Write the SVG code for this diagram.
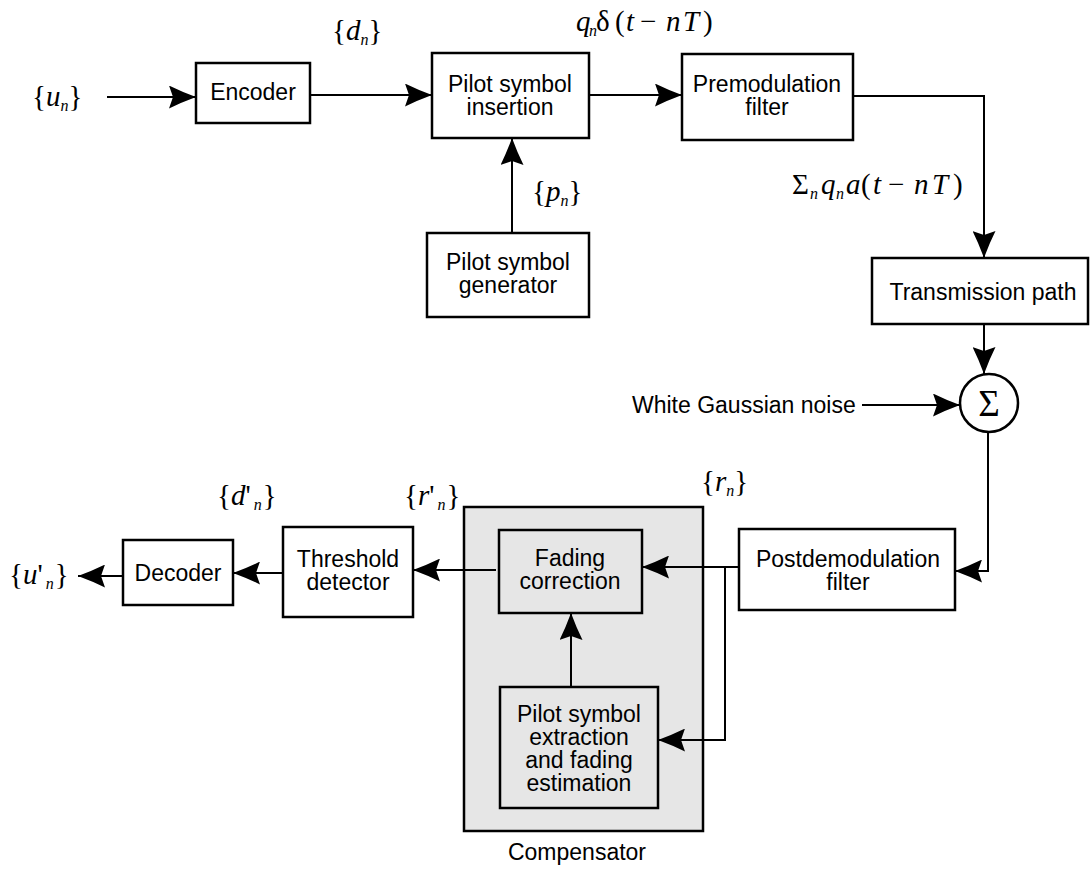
<svg xmlns="http://www.w3.org/2000/svg" width="1091" height="870" viewBox="0 0 1091 870">
<style>
.box{fill:#fff;stroke:#000;stroke-width:2.5}
.gbox{fill:#e6e6e6;stroke:#000;stroke-width:2.5}
.t{font-family:"Liberation Sans",Arial,sans-serif;font-size:23px;fill:#000;text-anchor:middle}
.tl{font-family:"Liberation Sans",Arial,sans-serif;font-size:23px;fill:#000}
.m{font-family:"Liberation Serif","Times New Roman",serif;font-size:29px;fill:#000}
.i{font-style:italic}
.s{font-style:italic;font-size:16px}
.c{fill:none;stroke:#000;stroke-width:2}
.a{marker-end:url(#ah)}
</style>
<defs>
<marker id="ah" viewBox="0 0 27 23" markerWidth="27" markerHeight="23" refX="27" refY="11.5" orient="auto" markerUnits="userSpaceOnUse">
<path d="M0,0 Q12,6 27,11.5 Q12,17 0,23 L4,11.5 Z" fill="#000"/>
</marker>
</defs>
<rect width="1091" height="870" fill="#fff"/>

<g id="compensator">
<rect class="gbox" x="464" y="507" width="239" height="324"/>
<text class="t" x="577" y="860">Compensator</text>
</g>

<g id="connectors">
<line class="c a" x1="107" y1="97" x2="196" y2="97"/>
<line class="c a" x1="310" y1="95" x2="432" y2="95"/>
<line class="c a" x1="589" y1="95" x2="682" y2="95"/>
<polyline class="c a" points="853,96 984,96 984,258"/>
<line class="c a" x1="512" y1="233" x2="512" y2="138"/>
<line class="c a" x1="984" y1="324" x2="984" y2="374"/>
<line class="c a" x1="862" y1="405" x2="960" y2="405"/>
<polyline class="c a" points="988,432 988,571 955,571"/>
<line class="c a" x1="739" y1="567" x2="642" y2="567"/>
<polyline class="c a" points="725,567 725,740 658,740"/>
<line class="c a" x1="571" y1="687" x2="571" y2="613"/>
<line class="c a" x1="496" y1="570" x2="413" y2="570"/>
<line class="c a" x1="283" y1="573" x2="233" y2="573"/>
<line class="c a" x1="123" y1="576" x2="78" y2="576"/>
</g>

<g id="encoder">
<rect class="box" x="196" y="63" width="114" height="60"/>
<text class="t" x="253" y="100">Encoder</text>
</g>
<g id="pilot-insertion">
<rect class="box" x="432" y="53" width="157" height="85"/>
<text class="t"><tspan x="510" y="92">Pilot symbol</tspan><tspan x="510" y="115">insertion</tspan></text>
</g>
<g id="premodulation">
<rect class="box" x="682" y="54" width="171" height="86"/>
<text class="t"><tspan x="767" y="92">Premodulation</tspan><tspan x="767" y="115">filter</tspan></text>
</g>
<g id="pilot-generator">
<rect class="box" x="427" y="233" width="162" height="84"/>
<text class="t"><tspan x="508" y="270">Pilot symbol</tspan><tspan x="508" y="293">generator</tspan></text>
</g>
<g id="transmission">
<rect class="box" x="872" y="258" width="216" height="66"/>
<text class="t" x="983" y="300">Transmission path</text>
</g>
<g id="sum">
<circle cx="989" cy="403" r="29" fill="#fff" stroke="#000" stroke-width="2.5"/>
<text x="989" y="416" font-family="Liberation Serif,serif" font-size="37" text-anchor="middle">Σ</text>
</g>
<g id="noise">
<text class="tl" x="632" y="413">White Gaussian noise</text>
</g>
<g id="postdemod">
<rect class="box" x="739" y="529" width="216" height="81"/>
<text class="t"><tspan x="848" y="567">Postdemodulation</tspan><tspan x="848" y="590">filter</tspan></text>
</g>
<g id="fading-correction">
<rect class="gbox" x="499" y="530" width="143" height="83"/>
<text class="t"><tspan x="570" y="566">Fading</tspan><tspan x="570" y="589">correction</tspan></text>
</g>
<g id="pilot-extraction">
<rect class="gbox" x="500" y="687" width="158" height="121"/>
<text class="t"><tspan x="579" y="722">Pilot symbol</tspan><tspan x="579" y="745">extraction</tspan><tspan x="579" y="768">and fading</tspan><tspan x="579" y="791">estimation</tspan></text>
</g>
<g id="threshold">
<rect class="box" x="283" y="527" width="130" height="90"/>
<text class="t"><tspan x="348" y="567">Threshold</tspan><tspan x="348" y="590">detector</tspan></text>
</g>
<g id="decoder">
<rect class="box" x="123" y="540" width="110" height="65"/>
<text class="t" x="178" y="581">Decoder</text>
</g>

<g id="labels">
<text class="m" x="32" y="106">{<tspan class="i">u</tspan><tspan class="s" dy="5">n</tspan><tspan dy="-5">}</tspan></text>
<text class="m" x="332" y="40">{<tspan class="i">d</tspan><tspan class="s" dy="5">n</tspan><tspan dy="-5">}</tspan></text>
<text class="m" x="532" y="201">{<tspan class="i">p</tspan><tspan class="s" dy="5">n</tspan><tspan dy="-5">}</tspan></text>
<text class="m" x="701" y="491">{<tspan class="i">r</tspan><tspan class="s" dy="5">n</tspan><tspan dy="-5">}</tspan></text>
<text class="m" x="404" y="505">{<tspan class="i">r</tspan>'<tspan class="s" dx="3" dy="5">n</tspan><tspan dx="1" dy="-5">}</tspan></text>
<text class="m" x="217" y="505">{<tspan class="i">d</tspan>'<tspan class="s" dx="3" dy="5">n</tspan><tspan dx="1" dy="-5">}</tspan></text>
<text class="m" x="9" y="584">{<tspan class="i">u</tspan>'<tspan class="s" dx="3" dy="5">n</tspan><tspan dx="1" dy="-5">}</tspan></text>
<text class="m" y="31"><tspan class="i" x="576">q</tspan><tspan class="s" x="589" dy="5">n</tspan><tspan x="596" dy="-5">δ</tspan><tspan x="615">(</tspan><tspan class="i" x="626">t</tspan><tspan x="640">−</tspan><tspan class="i" x="666">n</tspan><tspan class="i" x="683">T</tspan><tspan x="703">)</tspan></text>
<text class="m" y="194"><tspan x="792">Σ</tspan><tspan class="s" x="810" dy="5">n</tspan><tspan class="i" x="821" dy="-5">q</tspan><tspan class="s" x="836" dy="5">n</tspan><tspan class="i" x="846" dy="-5">a</tspan><tspan x="861">(</tspan><tspan class="i" x="873">t</tspan><tspan x="888">−</tspan><tspan class="i" x="914">n</tspan><tspan class="i" x="932">T</tspan><tspan x="953">)</tspan></text>
</g>
</svg>
